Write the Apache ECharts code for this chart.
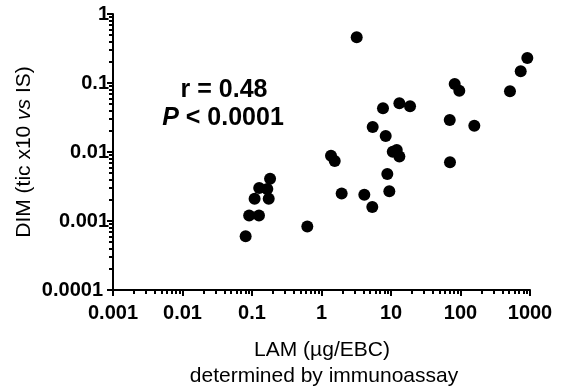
<!DOCTYPE html>
<html>
<head>
<meta charset="utf-8">
<script src="https://cdn.jsdelivr.net/npm/echarts@6/dist/echarts.min.js"></script>
<style>
  html, body { margin: 0; padding: 0; background: #fff; }
  #chart { width: 566px; height: 388px; }
</style>
</head>
<body>
<div id="chart"></div>
<script>
// LAM (µg/EBC) values, x
const lamValues = [0.081, 0.091, 0.126, 0.109, 0.174, 0.127, 0.166, 0.182, 0.625,
  1.37, 1.55, 1.95, 3.21, 4.13, 5.38, 5.45, 7.67, 8.39, 8.85, 9.46,
  10.6, 12.1, 13.2, 13.2, 18.8, 70.0, 70.6, 82.5, 96.1, 158, 515, 735, 915];
// DIM values, y
const dimValues = [0.00060, 0.0012, 0.0012, 0.0021, 0.0021, 0.0030, 0.0029, 0.0041, 0.00083,
  0.0088, 0.0074, 0.0025, 0.46, 0.0024, 0.0016, 0.023, 0.043, 0.017, 0.0048, 0.0027,
  0.0101, 0.0107, 0.0086, 0.051, 0.046, 0.029, 0.0071, 0.097, 0.077, 0.024, 0.076, 0.148, 0.23];

const xTickValues = [0.001, 0.01, 0.1, 1, 10, 100, 1000];
const xTickLabels = ['0.001', '0.01', '0.1', '1', '10', '100', '1000'];
const yTickValues = [0.0001, 0.001, 0.01, 0.1, 1];
const yTickLabels = ['0.0001', '0.001', '0.01', '0.1', '1'];
const minorMultipliers = [2, 3, 4, 5, 6, 7, 8, 9];

const xTitle = ['LAM (µg/EBC)', 'determined by immunoassay'];
const yTitle = 'DIM (tic x10 {i|vs} IS)';
const statLines = ['r = 0.48', '{i|P} < 0.0001'];

function minorTicks(majors) {
  const out = [];
  for (let i = 0; i < majors.length - 1; i++) {
    for (const m of minorMultipliers) out.push(+(majors[i] * m).toPrecision(6));
  }
  return out;
}
function labelFor(values, labels, v) {
  let best = 0, bd = Infinity;
  values.forEach((t, i) => { const d = Math.abs(Math.log10(t) - Math.log10(v)); if (d < bd) { bd = d; best = i; } });
  return labels[best];
}

const FONT = 'Liberation Sans, Arial, sans-serif';
const black = '#000';

const chart = echarts.init(document.getElementById('chart'), null, { renderer: 'canvas' });

chart.setOption({
  animation: false,
  backgroundColor: '#fff',
  grid: { left: 113, right: 36, top: 14, bottom: 98 },
  xAxis: [
    {
      type: 'log', position: 'bottom', min: 0.001, max: 1000,
      splitLine: { show: false },
      axisLine: { show: true, lineStyle: { color: black, width: 2 } },
      axisTick: { show: true, length: 6, customValues: xTickValues, lineStyle: { color: black, width: 2 } },
      axisLabel: {
        show: true, margin: 13, customValues: xTickValues,
        color: black, fontFamily: FONT, fontWeight: 'bold', fontSize: 20,
        formatter: v => labelFor(xTickValues, xTickLabels, v)
      }
    },
    {
      type: 'log', position: 'bottom', min: 0.001, max: 1000,
      splitLine: { show: false },
      axisLine: { show: false },
      axisTick: { show: true, length: 4, customValues: minorTicks(xTickValues), lineStyle: { color: black, width: 2 } },
      axisLabel: { show: false }
    }
  ],
  yAxis: [
    {
      type: 'log', position: 'left', min: 0.0001, max: 1,
      splitLine: { show: false },
      axisLine: { show: true, lineStyle: { color: black, width: 2 } },
      axisTick: { show: true, length: 6, customValues: yTickValues, lineStyle: { color: black, width: 2 } },
      axisLabel: {
        show: true, margin: 4, customValues: yTickValues,
        color: black, fontFamily: FONT, fontWeight: 'bold', fontSize: 20,
        formatter: v => {
          const s = labelFor(yTickValues, yTickLabels, v);
          return s === yTickLabels[0] ? '{b|' + s + '}' : s;
        },
        rich: { b: { color: black, fontFamily: FONT, fontWeight: 'bold', fontSize: 20, padding: [0, 6, 0, 0] } }
      }
    },
    {
      type: 'log', position: 'left', min: 0.0001, max: 1,
      splitLine: { show: false },
      axisLine: { show: false },
      axisTick: { show: true, length: 4, customValues: minorTicks(yTickValues), lineStyle: { color: black, width: 2 } },
      axisLabel: { show: false }
    }
  ],
  series: [{
    type: 'scatter',
    xAxisIndex: 0, yAxisIndex: 0,
    symbol: 'circle', symbolSize: 12,
    itemStyle: { color: black, opacity: 1 },
    emphasis: { disabled: true },
    data: lamValues.map((x, i) => [x, dimValues[i]])
  }],
  graphic: [
    { type: 'text', x: 322, y: 350, silent: true,
      style: { text: xTitle[0], fill: black, fontFamily: FONT, fontSize: 21, align: 'center', verticalAlign: 'middle' } },
    { type: 'text', x: 324, y: 376, silent: true,
      style: { text: xTitle[1], fill: black, fontFamily: FONT, fontSize: 21, align: 'center', verticalAlign: 'middle' } },
    { type: 'text', x: 24, y: 152, rotation: Math.PI / 2, silent: true,
      style: { text: yTitle, fill: black, fontFamily: FONT, fontSize: 21, align: 'center', verticalAlign: 'middle',
        rich: { i: { fill: black, fontFamily: FONT, fontSize: 21, fontStyle: 'italic' } } } },
    { type: 'text', x: 224, y: 90, silent: true,
      style: { text: statLines[0], fill: black, fontFamily: FONT, fontSize: 25, fontWeight: 'bold', align: 'center', verticalAlign: 'middle' } },
    { type: 'text', x: 223, y: 118, silent: true,
      style: { text: statLines[1], fill: black, fontFamily: FONT, fontSize: 25, fontWeight: 'bold', align: 'center', verticalAlign: 'middle',
        rich: { i: { fill: black, fontFamily: FONT, fontSize: 25, fontWeight: 'bold', fontStyle: 'italic' } } } }
  ]
});
</script>
</body>
</html>
